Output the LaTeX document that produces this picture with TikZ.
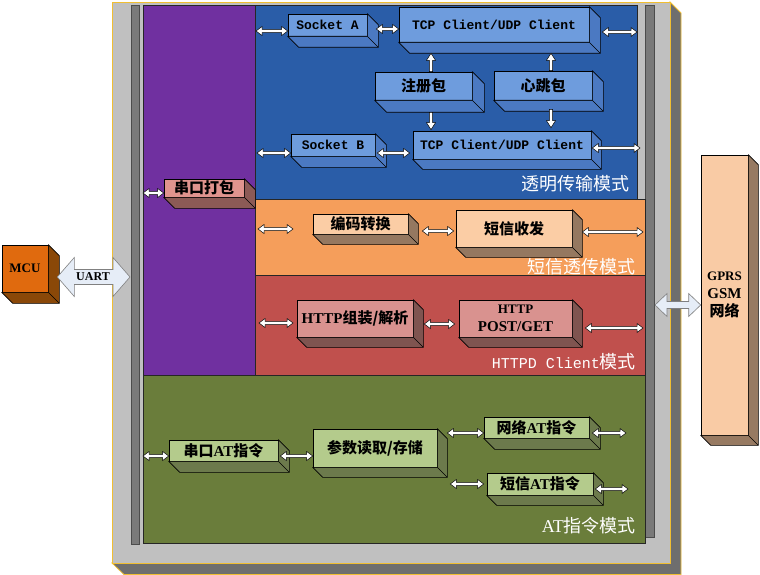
\documentclass[tikz,border=0pt]{standalone}
\usepackage{fontspec}
\setmainfont{Liberation Serif}
\newfontfamily\cjk{Noto Sans CJK SC}
\newfontfamily\monof{Liberation Mono}
\usetikzlibrary{calc}
\definecolor{goldline}{HTML}{F0BE32}
\definecolor{outergray}{HTML}{C0C0C0}
\definecolor{shadowgray}{HTML}{6E6E6E}
\definecolor{bargray}{HTML}{7A7A7A}
\definecolor{purp}{HTML}{7030A0}
\definecolor{bluep}{HTML}{2A5DA8}
\definecolor{orangep}{HTML}{F59E5B}
\definecolor{redp}{HTML}{C0504D}
\definecolor{greenp}{HTML}{6A7D3B}
\definecolor{bfront}{HTML}{6E9CDD}
\definecolor{bside}{HTML}{4B79C2}
\definecolor{pfront}{HTML}{E0948E}
\definecolor{pside}{HTML}{8C5A56}
\definecolor{ofront}{HTML}{FBCDA5}
\definecolor{oside}{HTML}{957860}
\definecolor{rfront}{HTML}{D9928F}
\definecolor{rside}{HTML}{7F5450}
\definecolor{gfront}{HTML}{B4CB8C}
\definecolor{gside}{HTML}{6C7A4C}
\definecolor{mcufront}{HTML}{E06A0E}
\definecolor{mcuside}{HTML}{8A4808}
\definecolor{gprsfront}{HTML}{F9CBA5}
\definecolor{gprsside}{HTML}{977A62}
\definecolor{bigfill}{HTML}{E6EDF7}
\newcommand\zh[1]{{\cjk\bfseries #1}}
\newcommand\mono[1]{{\monof\bfseries\fontsize{13}{15}\selectfont #1}}
% 3D box: name, cx, cy, w, h, depth, front, side, text
\newcommand\tdbox[9]{%
  \node[boxnode, fill=#7, minimum width=#4pt, minimum height=#5pt] (#1) at (#2,#3) {#9};
  \filldraw[fill=#8, draw=black, line width=0.6pt, line join=round]
    (#1.north east) -- ++(#6,#6) -- ([shift={(#6,#6)}]#1.south east)
    -- ([shift={(#6,#6)}]#1.south west) -- (#1.south west) -- (#1.south east) -- cycle;
  \draw[line width=0.6pt] (#1.south east) -- ++(#6,#6);
}
% horizontal double arrow: head length, head half width, shaft half width, style, from, to
\newcommand\hdarr[6]{%
  \draw[#4] let \p1=(#5), \p2=(#6) in
    (\x1,\y1) -- (\x1+#1pt,\y1+#2pt) -- (\x1+#1pt,\y1+#3pt) -- (\x2-#1pt,\y1+#3pt)
    -- (\x2-#1pt,\y1+#2pt) -- (\x2,\y1) -- (\x2-#1pt,\y1-#2pt) -- (\x2-#1pt,\y1-#3pt)
    -- (\x1+#1pt,\y1-#3pt) -- (\x1+#1pt,\y1-#2pt) -- cycle;
}
% vertical single arrows (up / down)
\newcommand\uparr[6]{%
  \draw[#4] let \p1=(#5), \p2=(#6) in
    (\x1-#3pt,\y1) -- (\x1-#3pt,\y2-#1pt) -- (\x1-#2pt,\y2-#1pt) -- (\x1,\y2)
    -- (\x1+#2pt,\y2-#1pt) -- (\x1+#3pt,\y2-#1pt) -- (\x1+#3pt,\y1) -- cycle;
}
\newcommand\downarr[6]{%
  \draw[#4] let \p1=(#5), \p2=(#6) in
    (\x1-#3pt,\y1) -- (\x1-#3pt,\y2+#1pt) -- (\x1-#2pt,\y2+#1pt) -- (\x1,\y2)
    -- (\x1+#2pt,\y2+#1pt) -- (\x1+#3pt,\y2+#1pt) -- (\x1+#3pt,\y1) -- cycle;
}
\tikzset{
  boxnode/.style={draw=black, line width=0.6pt, inner sep=0pt, align=center,
    font=\fontsize{15}{18}\selectfont\bfseries},
  sarr/.style={fill=white, draw=black, line width=0.5pt, line join=miter},
  bigarr/.style={fill=bigfill, draw=gray, line width=0.6pt},
  panel/.style={draw=black!85, line width=0.6pt},
  lab/.style={text=white, anchor=east, inner sep=0pt, font=\fontsize{18}{20}\selectfont\cjk},
  bar/.style={fill=bargray, draw=black!70, line width=0.6pt}
}
\begin{document}
\begin{tikzpicture}[x=1pt,y=-1pt]
\useasboundingbox (0,0) rectangle (760,575);
\fill[white] (0,0) rectangle (760,575);
% outer box with 3D shadow
\filldraw[fill=shadowgray, draw=goldline, line width=0.8pt]
  (670,2) -- (681,13) -- (681,574.5) -- (124,574.5) -- (112,563) -- (670,563) -- cycle;
\filldraw[fill=outergray, draw=goldline, line width=0.8pt] (112,2) rectangle (670,563);
% bars
\filldraw[bar] (131,5) rectangle (139,544);
\filldraw[bar] (645,5) rectangle (654,537);
% panels
\filldraw[panel, fill=purp] (143,5) rectangle (255,375);
\filldraw[panel, fill=bluep] (255,5) rectangle (637,199);
\filldraw[panel, fill=orangep] (255,199) rectangle (645,275);
\filldraw[panel, fill=redp] (255,275) rectangle (645,375);
\filldraw[panel, fill=greenp] (143,375) rectangle (645,543);
% blue boxes
\tdbox{sockA}{327.5}{25}{79}{22}{11}{bfront}{bside}{\mono{Socket A}}
\tdbox{tcpA}{494}{24.5}{190}{35}{11}{bfront}{bside}{\mono{TCP Client/UDP Client}}
\tdbox{reg}{423.5}{86}{97}{28}{12}{bfront}{bside}{\zh{注册包}}
\tdbox{beat}{543}{85.5}{98}{29}{11}{bfront}{bside}{\zh{心跳包}}
\tdbox{sockB}{333}{145}{84}{22}{11}{bfront}{bside}{\mono{Socket B}}
\tdbox{tcpB}{502}{145}{178}{28}{10}{bfront}{bside}{\mono{TCP Client/UDP Client}}
% purple box
\tdbox{pack}{204}{188}{80}{18}{11}{pfront}{pside}{\zh{串口打包}}
% orange boxes
\tdbox{code}{360.5}{224}{95}{20}{10}{ofront}{oside}{\zh{编码转换}}
\tdbox{sms}{514}{228.5}{116}{37}{10}{ofront}{oside}{\zh{短信收发}}
% red boxes
\tdbox{httpA}{355}{318.5}{116}{37}{10}{rfront}{rside}{HTTP\zh{组装/解析}}
\tdbox{httpB}{515.5}{318.5}{113}{37}{10}{rfront}{rside}{\fontsize{13}{18}\selectfont HTTP\\POST/GET}
% green boxes
\tdbox{atA}{223.5}{450.5}{109}{21}{11}{gfront}{gside}{\zh{串口}AT\zh{指令}}
\tdbox{param}{375}{448}{124}{38}{10}{gfront}{gside}{\zh{参数读取/存储}}
\tdbox{net}{536.5}{427.5}{105}{21}{11}{gfront}{gside}{\zh{网络}AT\zh{指令}}
\tdbox{smsat}{540}{484}{106}{22}{10}{gfront}{gside}{\zh{短信}AT\zh{指令}}
% outside boxes
\tdbox{mcu}{25}{268.5}{46}{47}{11}{mcufront}{mcuside}{\fontsize{13}{15}\selectfont MCU}
\tdbox{gprs}{724.5}{295}{47}{280}{10}{gprsfront}{gprsside}{\fontsize{13}{19}\selectfont GPRS\\GSM\\\zh{网络}}
% panel labels
\node[lab] (lblblue) at (630,184) {透明传输模式};
\node[lab] (lblorange) at (636,267) {短信透传模式};
\node[lab] (lblred) at (636,362) {{\monof\fontsize{15}{18}\selectfont HTTPD Client}模式};
\node[lab] (lblgreen) at (636,526) {{\fontsize{18}{20}\selectfont\rmfamily AT}指令模式};
% free arrow ends
\coordinate (bl1) at (256,31);
\coordinate (br1) at (637,32);
\coordinate (bl2) at (257,153);
\coordinate (br2) at (640,148);
\coordinate (pl) at (143,193);
\coordinate (ol1) at (258,229);
\coordinate (ol2) at (293,229);
\coordinate (orr) at (643,232);
\coordinate (rl1) at (259,323);
\coordinate (rl2) at (293,323);
\coordinate (rr) at (643,328);
\coordinate (gl) at (143,456);
\coordinate (gr1) at (626,433);
\coordinate (gr2) at (628,489);
\coordinate (uartend) at (130,277);
\coordinate (gprsstart) at (655,305);
% blue arrows
\hdarr{6}{4.5}{1.6}{sarr}{bl1}{sockA.west}
\hdarr{6}{4.5}{1.6}{sarr}{[shift={(9,4)}]sockA.east}{tcpA.west}
\hdarr{6}{4.5}{1.6}{sarr}{[shift={(13,7.5)}]tcpA.east}{br1}
\uparr{7}{4.5}{1.6}{sarr}{[xshift=7.5pt]reg.north}{[yshift=-11pt]tcpA.south}
\uparr{7}{4.5}{1.6}{sarr}{[xshift=8pt]beat.north}{[yshift=-11pt]tcpA.south}
\downarr{7}{4.5}{1.6}{sarr}{[shift={(7.5,12)}]reg.south}{[yshift=1pt]tcpB.north}
\downarr{7}{4.5}{1.6}{sarr}{[shift={(8,9)}]beat.south}{[yshift=3pt]tcpB.north}
\hdarr{6}{4.5}{1.6}{sarr}{bl2}{sockB.west}
\hdarr{6}{4.5}{1.6}{sarr}{[shift={(2,8)}]sockB.east}{[xshift=-3pt]tcpB.west}
\hdarr{6}{4.5}{1.6}{sarr}{[shift={(1,3)}]tcpB.east}{br2}
% purple arrow
\hdarr{6}{4.5}{1.6}{sarr}{pl}{pack.west}
% orange arrows
\hdarr{6}{4.5}{1.6}{sarr}{ol1}{ol2}
\hdarr{6}{4.5}{1.6}{sarr}{[shift={(14,7)}]code.east}{[xshift=-2pt]sms.west}
\hdarr{6}{4.5}{1.6}{sarr}{[shift={(10,3.5)}]sms.east}{orr}
% red arrows
\hdarr{6}{4.5}{1.6}{sarr}{rl1}{rl2}
\hdarr{6}{4.5}{1.6}{sarr}{[shift={(11,5.5)}]httpA.east}{[xshift=-4pt]httpB.west}
\hdarr{6}{4.5}{1.6}{sarr}{[shift={(13,9.5)}]httpB.east}{rr}
% green arrows
\hdarr{6}{4.5}{1.6}{sarr}{gl}{atA.west}
\hdarr{6}{4.5}{1.6}{sarr}{[shift={(2,5.5)}]atA.east}{param.west}
\hdarr{6}{4.5}{1.6}{sarr}{[shift={(10,-15)}]param.east}{net.west}
\hdarr{6}{4.5}{1.6}{sarr}{[shift={(13,36)}]param.east}{[xshift=-3pt]smsat.west}
\hdarr{6}{4.5}{1.6}{sarr}{[shift={(3,5.5)}]net.east}{gr1}
\hdarr{6}{4.5}{1.6}{sarr}{[shift={(2,5)}]smsat.east}{gr2}
% big arrows
\hdarr{17}{19.5}{7.5}{bigarr}{[shift={(9,8.5)}]mcu.east}{uartend}
\node[font=\fontsize{12}{14}\selectfont\bfseries, inner sep=0pt] (uartlbl) at (93,277) {UART};
\hdarr{12}{11.5}{3.5}{bigarr}{gprsstart}{gprs.west}
\end{tikzpicture}
\end{document}
